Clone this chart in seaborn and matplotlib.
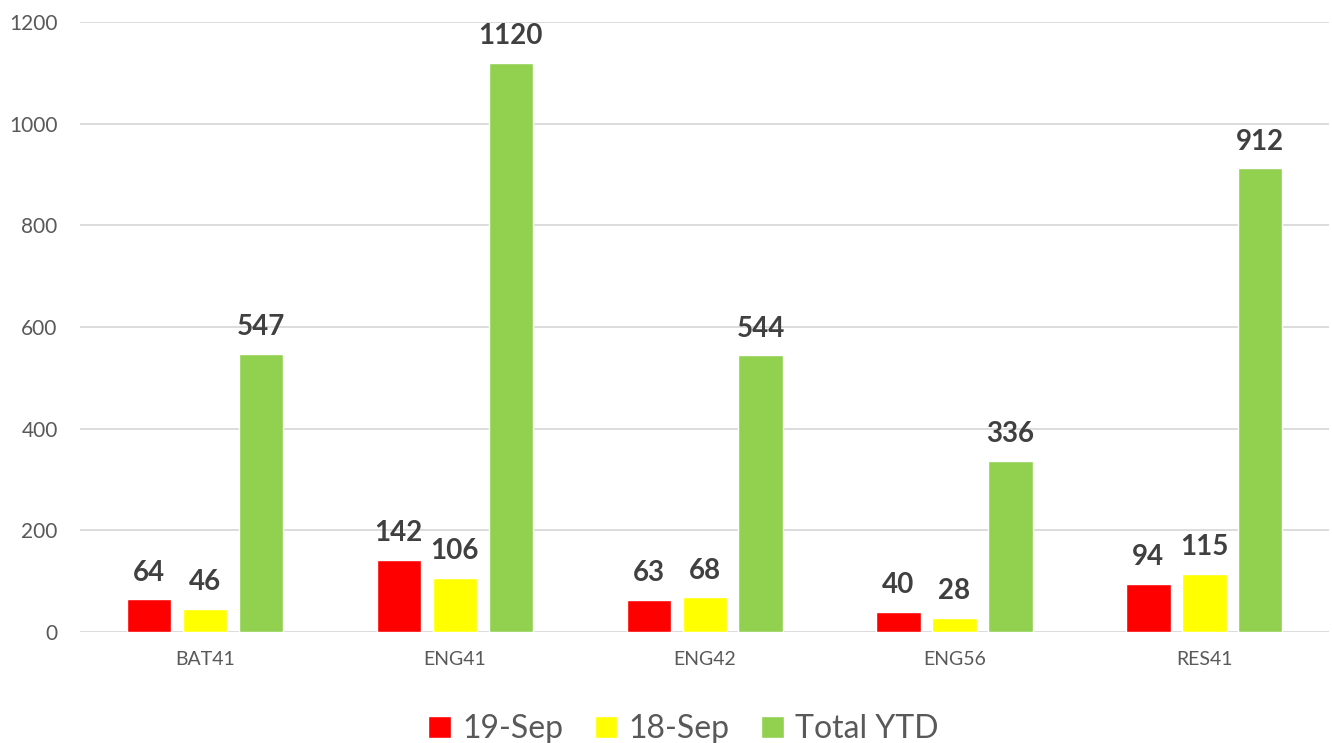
import pandas as pd
import matplotlib.pyplot as plt
import seaborn as sns

categories = ["BAT41", "ENG41", "ENG42", "ENG56", "RES41"]
sep19 = [64, 142, 63, 40, 94]
sep18 = [46, 106, 68, 28, 115]
total_ytd = [547, 1120, 544, 336, 912]
series = ["19-Sep", "18-Sep", "Total YTD"]
colors = ["#FF0000", "#FFFF00", "#92D050"]

df = pd.DataFrame({
    "category": categories * 3,
    "series": [s for s in series for _ in categories],
    "value": sep19 + sep18 + total_ytd,
})

sns.set_style("white")
plt.rcParams["font.family"] = ["Lato", "DejaVu Sans"]

fig = plt.figure(figsize=(13.32, 7.43), dpi=100)
ax = fig.add_axes([0.060, 0.1494, 0.938, 0.821])

sns.barplot(data=df, x="category", y="value", hue="series", hue_order=series,
            palette=colors, width=0.672, gap=0.21, saturation=1, ax=ax,
            legend=True, errorbar=None)

for cont in ax.containers:
    ax.bar_label(cont, padding=10, fontsize=20, fontweight="bold", color="#404040")

ax.set_ylim(0, 1200)
ax.set_yticks(range(0, 1201, 200))
ax.yaxis.grid(True, color="#D9D9D9", linewidth=1.3)
ax.set_axisbelow(True)
for s in ax.spines.values():
    s.set_visible(False)
ax.tick_params(axis="y", length=0, labelsize=15, labelcolor="#595959", pad=16)
ax.tick_params(axis="x", length=0, labelsize=14, labelcolor="#595959", pad=14)
ax.set_xlabel("")
ax.set_ylabel("")

ax.legend(loc="upper center", bbox_to_anchor=(0.483, -0.088), ncol=3, frameon=False,
          fontsize=23, labelcolor="#595959", handlelength=0.7, handleheight=0.7,
          handletextpad=0.35, columnspacing=1.0)

fig.savefig("out.png", dpi=100)
